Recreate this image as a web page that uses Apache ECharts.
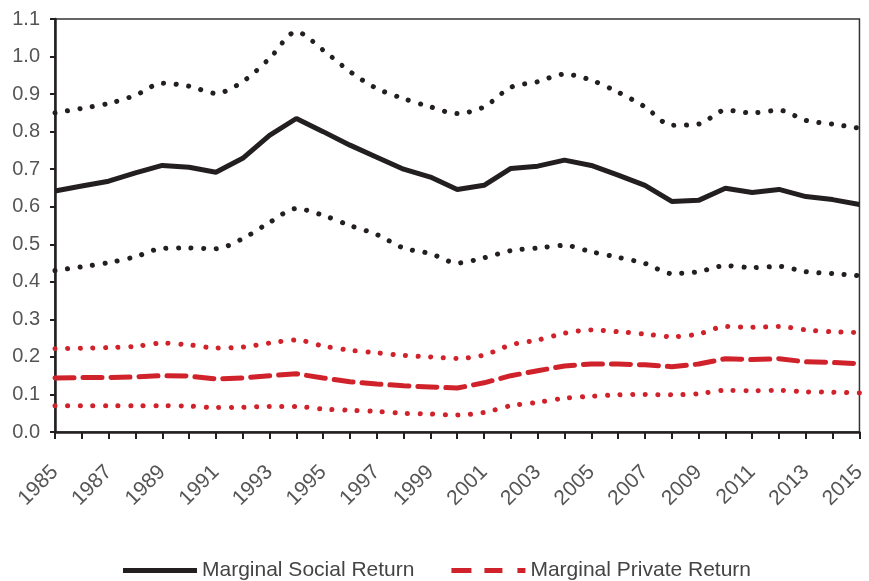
<!DOCTYPE html>
<html>
<head>
<meta charset="utf-8">
<script src="https://cdn.jsdelivr.net/npm/echarts@6/dist/echarts.min.js"></script>
<style>
  html, body { margin: 0; padding: 0; background: #fff; }
  #main { width: 869px; height: 581px; }
</style>
</head>
<body>
<div id="main"></div>
<script>
window.addEventListener('load', function () {
    // years on the x axis
    let years = [];
    for (let y = 1985; y <= 2015; y++) years.push(String(y));

    // social return and its band
    let socialReturn = [0.642, 0.655, 0.668, 0.690, 0.710, 0.705, 0.692, 0.729, 0.790, 0.835,
        0.800, 0.764, 0.732, 0.700, 0.679, 0.646, 0.657, 0.702, 0.708, 0.724,
        0.710, 0.684, 0.657, 0.614, 0.617, 0.649, 0.638, 0.646, 0.627, 0.619, 0.606];
    let socialUpper = [0.850, 0.862, 0.875, 0.897, 0.929, 0.921, 0.902, 0.933, 0.995, 1.066,
        1.017, 0.960, 0.915, 0.888, 0.866, 0.848, 0.866, 0.918, 0.933, 0.953,
        0.937, 0.905, 0.866, 0.817, 0.820, 0.857, 0.850, 0.857, 0.830, 0.820, 0.809];
    let socialLower = [0.430, 0.440, 0.451, 0.467, 0.489, 0.490, 0.488, 0.515, 0.558, 0.595,
        0.577, 0.550, 0.526, 0.490, 0.475, 0.450, 0.464, 0.483, 0.490, 0.497,
        0.480, 0.465, 0.449, 0.422, 0.427, 0.443, 0.438, 0.441, 0.427, 0.422, 0.416];

    // private return and its band
    let privateReturn = [0.144, 0.145, 0.145, 0.147, 0.150, 0.149, 0.141, 0.144, 0.150, 0.155,
        0.144, 0.134, 0.128, 0.123, 0.120, 0.117, 0.131, 0.150, 0.163, 0.176,
        0.181, 0.181, 0.179, 0.174, 0.181, 0.195, 0.193, 0.195, 0.187, 0.185, 0.182];
    let privateUpper = [0.222, 0.223, 0.225, 0.228, 0.237, 0.232, 0.224, 0.226, 0.237, 0.245,
        0.229, 0.218, 0.211, 0.204, 0.200, 0.196, 0.205, 0.232, 0.245, 0.263,
        0.272, 0.267, 0.261, 0.254, 0.261, 0.281, 0.279, 0.281, 0.272, 0.267, 0.265];
    let privateLower = [0.070, 0.070, 0.070, 0.070, 0.070, 0.069, 0.065, 0.066, 0.068, 0.068,
        0.061, 0.058, 0.055, 0.050, 0.048, 0.045, 0.052, 0.070, 0.079, 0.090,
        0.095, 0.099, 0.100, 0.099, 0.102, 0.111, 0.110, 0.111, 0.107, 0.106, 0.104];

    let black = '#231f20';
    let red = '#d0222b';
    let font = '"Liberation Sans", Arial, sans-serif';

    let chart = echarts.init(document.getElementById('main'));
    let dots = function (name, data, color) {
        return {
            name: name, type: 'line', data: data, symbol: 'none', smooth: 0.3,
            lineStyle: { color: color, width: 5, type: [0.1, 12.5], cap: 'round' },
            itemStyle: { color: color }, z: 2
        };
    };
    let option = {
        animation: false,
        textStyle: { fontFamily: font },
        grid: {
            left: 55, right: 5, top: 19, bottom: 149,
            show: true, borderColor: '#333', borderWidth: 1.5, backgroundColor: 'transparent'
        },
        legend: {
            bottom: 0, left: 123, padding: 0,
            itemWidth: 74, itemHeight: 5, itemGap: 37,
            data: [
                { name: 'Marginal Social Return', icon: 'path://M0,0h74v5h-74z' },
                { name: 'Marginal Private Return', icon: 'path://M0,0h20v5h-20z M33,0h18v5h-18z M66,0h8v5h-8z' }
            ],
            textStyle: { fontSize: 21, color: '#444', fontFamily: font }
        },
        xAxis: {
            type: 'category', data: years, boundaryGap: false,
            axisLine: { lineStyle: { color: black, width: 2.5 } },
            axisTick: { interval: 0, length: 7, lineStyle: { color: black, width: 2 } },
            axisLabel: { interval: 1, rotate: 45, fontSize: 21, color: '#555', margin: 37 },
            splitLine: { show: false }
        },
        yAxis: {
            type: 'value', min: 0, max: 1.1, interval: 0.1,
            axisLine: { show: true, lineStyle: { color: black, width: 2.5 } },
            axisTick: { show: true, length: 5, lineStyle: { color: black, width: 2 } },
            axisLabel: {
                fontSize: 20, color: '#555', margin: 15,
                formatter: function (v) { return v.toFixed(1); }
            },
            splitLine: { show: false }
        },
        series: [
            dots('Social Upper', socialUpper, black),
            dots('Social Lower', socialLower, black),
            dots('Private Upper', privateUpper, red),
            dots('Private Lower', privateLower, red),
            {
                name: 'Marginal Social Return', type: 'line', data: socialReturn, symbol: 'none',
                lineStyle: { color: black, width: 5 }, itemStyle: { color: black }, z: 3
            },
            {
                name: 'Marginal Private Return', type: 'line', data: privateReturn, symbol: 'none',
                lineStyle: { color: red, width: 5, type: [19, 9], cap: 'round' },
                itemStyle: { color: red }, z: 3
            }
        ]
    };
    chart.setOption(option);
}, false);
</script>
</body>
</html>
